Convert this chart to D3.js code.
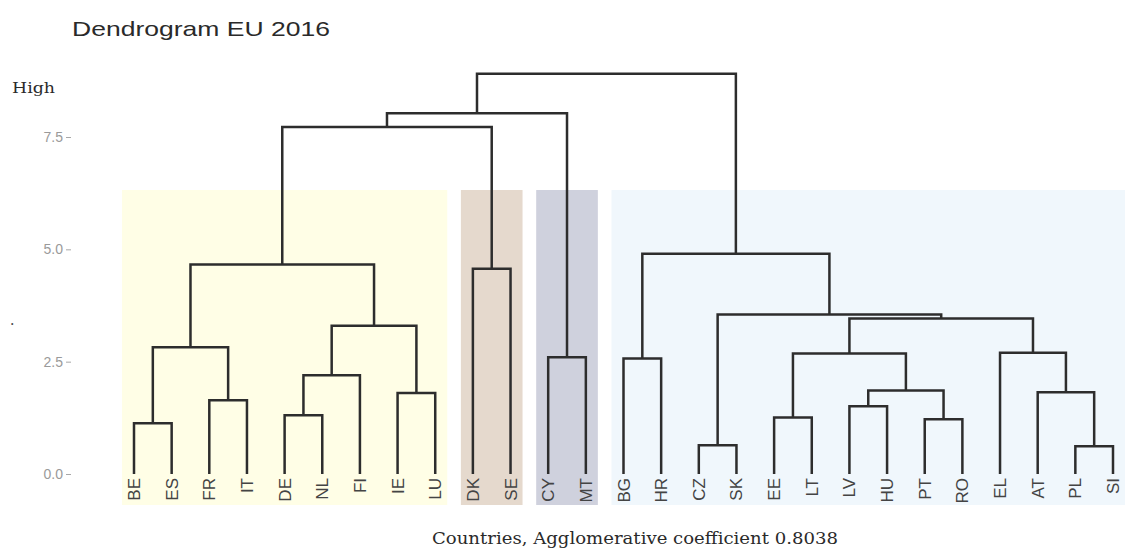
<!DOCTYPE html>
<html>

<head>
    <meta charset="utf-8">
    <title>Dendrogram EU 2016</title>
    <style type="text/css">
        body { margin: 0; background: #fff; }
        .links path {
            fill: none;
            stroke: #2d2d2d;
            stroke-width: 2.5px;
        }
        .axis text { fill: #9a9a9a; font-family: "Liberation Sans", Arial, sans-serif; font-size: 14px; }
        .axis line { stroke: #a8a8a8; }
        .axis .domain { display: none; }
    </style>
</head>

<body>
    <svg class="dend" width="1132" height="549"></svg>
    <script type="text/javascript" src="https://cdn.jsdelivr.net/npm/d3@7/dist/d3.min.js"></script>
    <script type="text/javascript">
    // leaf order as drawn
    var countries = ["BE", "ES", "FR", "IT", "DE", "NL", "FI", "IE", "LU", "DK", "SE", "CY", "MT",
        "BG", "HR", "CZ", "SK", "EE", "LT", "LV", "HU", "PT", "RO", "EL", "AT", "PL", "SI"];

    // merge steps (number = earlier step, 1-based) and their heights
    var mergePairs = [
        ["PL", "SI"], ["CZ", "SK"], ["BE", "ES"], ["PT", "RO"], ["EE", "LT"], ["DE", "NL"],
        ["LV", "HU"], ["FR", "IT"], ["IE", "LU"], ["AT", 1], [7, 4], [6, "FI"], ["BG", "HR"],
        ["CY", "MT"], [5, 11], ["EL", 10], [3, 8], [12, 9], [15, 16], [2, 19], ["DK", "SE"],
        [17, 18], [13, 20], [22, 21], [24, 14], [25, 23]
    ];
    var mergeHeights = [0.62, 0.64, 1.13, 1.22, 1.26, 1.31, 1.51, 1.64, 1.80, 1.82, 1.86, 2.20, 2.57,
        2.60, 2.68, 2.70, 2.82, 3.30, 3.46, 3.55, 4.57, 4.66, 4.90, 7.72, 8.03, 8.91];

    var yTicks = [0, 2.5, 5, 7.5];

    // clusters shaded behind the tree
    var clusterFirst = ["BE", "DK", "CY", "BG"];
    var clusterLast = ["LU", "SE", "MT", "SI"];
    var clusterTop = 6.32;
    var clusterColors = ["#fffee6", "#e5d9cd", "#cfd1dd", "#f0f7fc"];

    var svg = d3.select('.dend');

    var x = d3.scalePoint().domain(countries).range([134, 1113]);
    var y = d3.scaleLinear().domain([0, 7.5]).range([474, 137]);

    // build the tree from the merge list
    var leaves = {};
    countries.forEach(function(c) { leaves[c] = {name: c, h: 0}; });
    var steps = [];
    mergePairs.forEach(function(p, i) {
        steps.push({
            name: 'm' + (i + 1),
            h: mergeHeights[i],
            children: p.map(function(k) { return typeof k === 'number' ? steps[k - 1] : leaves[k]; })
        });
    });
    var root = d3.hierarchy(steps[steps.length - 1]);
    root.eachAfter(function(d) {
        d.px = d.children ? d3.mean(d.children, function(c) { return c.px; }) : x(d.data.name);
    });

    // shaded cluster boxes
    svg.append('g')
        .selectAll('rect')
        .data(clusterFirst)
        .enter()
        .append('rect')
        .attr('x', function(d) { return x(d) - 12; })
        .attr('y', y(clusterTop))
        .attr('width', function(d, i) { return x(clusterLast[i]) - x(d) + 24; })
        .attr('height', 505 - y(clusterTop))
        .attr('fill', function(d, i) { return clusterColors[i]; });

    // y axis
    svg.append('g')
        .attr('class', 'axis')
        .attr('transform', 'translate(71, 0)')
        .call(d3.axisLeft(y).tickValues(yTicks).tickFormat(d3.format('.1f')).tickSize(5).tickPadding(3));

    // elbow links
    svg.append('g')
        .attr('class', 'links')
        .selectAll('path')
        .data(root.descendants().filter(function(d) { return d.children; }))
        .enter()
        .append('path')
        .attr('d', function(d) {
            var a = d.children[0], b = d.children[1];
            return 'M' + a.px + ',' + y(a.data.h) + 'V' + y(d.data.h) + 'H' + b.px + 'V' + y(b.data.h);
        });

    // leaf labels
    svg.append('g')
        .selectAll('text')
        .data(root.leaves())
        .enter()
        .append('text')
        .attr('transform', function(d) { return 'translate(' + (d.px + 6) + ',478) rotate(-90)'; })
        .attr('text-anchor', 'end')
        .attr('font-family', '"Liberation Sans", Arial, sans-serif')
        .attr('font-size', 17)
        .attr('fill', '#444')
        .text(function(d) { return d.data.name; });

    // title and axis texts
    svg.append('text')
        .attr('x', 72).attr('y', 36)
        .attr('font-family', '"Liberation Sans", Arial, sans-serif')
        .attr('font-size', 21)
        .attr('fill', '#2a2a2a')
        .attr('textLength', 258).attr('lengthAdjust', 'spacingAndGlyphs')
        .text('Dendrogram EU 2016');

    svg.append('text')
        .attr('x', 12).attr('y', 93)
        .attr('font-family', '"DejaVu Serif", serif')
        .attr('font-size', 15)
        .attr('fill', '#2a2a2a')
        .attr('textLength', 43).attr('lengthAdjust', 'spacingAndGlyphs')
        .text('High');

    svg.append('text')
        .attr('x', 10).attr('y', 325)
        .attr('font-family', '"DejaVu Serif", serif')
        .attr('font-size', 14)
        .attr('fill', '#444')
        .text('.');

    svg.append('text')
        .attr('x', 432).attr('y', 544)
        .attr('font-family', '"DejaVu Serif", serif')
        .attr('font-size', 17)
        .attr('fill', '#2a2a2a')
        .attr('textLength', 406).attr('lengthAdjust', 'spacingAndGlyphs')
        .text('Countries, Agglomerative coefficient 0.8038');
    </script>
</body>

</html>
